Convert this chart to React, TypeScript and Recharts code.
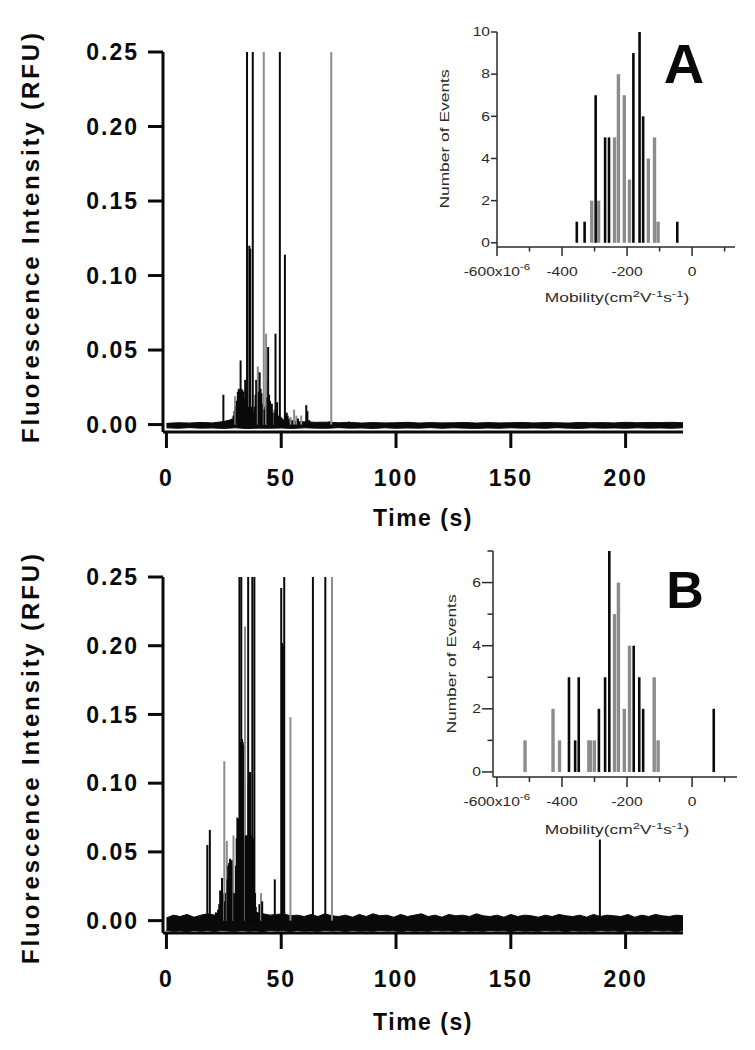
import { ComposedChart, BarChart, Area, Bar, XAxis, YAxis } from 'recharts'

const BLACK = '#0a0a0a'
const GREY = '#8c8c8c'
const INK = '#2a2a2a'
const FONT = '"Liberation Sans", Arial, Helvetica, sans-serif'

// main traces
const timeTicks = [0, 50, 100, 150, 200]
const rfuTicks = [0, 0.05, 0.1, 0.15, 0.2, 0.25]

// baseline band of trace A, one sample every 5 s from t = 0
const baseStepA = 5
const baseLowA = [
  -0.0022, -0.0025, -0.0021, -0.0024, -0.0023, -0.0026, -0.0022, -0.0027, -0.0024, -0.0025,
  -0.0023, -0.0026, -0.0022, -0.0024, -0.0025, -0.0021, -0.0024, -0.0023, -0.0026, -0.0022,
  -0.0025, -0.0023, -0.0024, -0.0021, -0.0025, -0.0022, -0.0024, -0.0026, -0.0023, -0.0025,
  -0.0022, -0.0024, -0.0023, -0.0025, -0.0021, -0.0024, -0.0026, -0.0022, -0.0024, -0.0023,
  -0.0025, -0.0022, -0.0024, -0.0023, -0.0025, -0.0022,
]
const baseHighA = [
  0.0008, 0.0012, 0.001, 0.0014, 0.0011, 0.002, 0.004, 0.004, 0.004, 0.003,
  0.002, 0.002, 0.0018, 0.0015, 0.0016, 0.0012, 0.0014, 0.001, 0.0013, 0.0011,
  0.0012, 0.0015, 0.001, 0.0013, 0.0011, 0.0012, 0.0014, 0.001, 0.0013, 0.0011,
  0.0012, 0.0014, 0.0011, 0.0013, 0.0012, 0.001, 0.0014, 0.0012, 0.0013, 0.0011,
  0.0015, 0.0012, 0.0014, 0.0013, 0.0015, 0.0012,
]

// single events of trace A: [time s, intensity RFU]
const spikesBlackA: [number, number][] = [
  [24.8, 0.02], [28.0, 0.003], [28.6, 0.004], [29.2, 0.006], [29.6, 0.009], [30.2, 0.012],
  [30.7, 0.016], [31.1, 0.022], [31.5, 0.024], [31.9, 0.023], [32.3, 0.043], [32.7, 0.024],
  [33.1, 0.023], [33.5, 0.022], [33.9, 0.018], [34.3, 0.03], [34.7, 0.014], [35.1, 0.25],
  [35.5, 0.012], [35.8, 0.01], [36.1, 0.12], [36.5, 0.118], [36.9, 0.012], [37.2, 0.008],
  [37.6, 0.25], [38.0, 0.008], [38.4, 0.012], [38.8, 0.02], [39.1, 0.03], [39.5, 0.027],
  [40.2, 0.022], [40.6, 0.035], [41.0, 0.024], [41.4, 0.021], [41.8, 0.014], [42.1, 0.01],
  [42.7, 0.01], [43.1, 0.012], [44.0, 0.018], [44.3, 0.052], [44.7, 0.02], [45.1, 0.016],
  [45.5, 0.012], [45.9, 0.014], [46.3, 0.008], [46.6, 0.006], [47.1, 0.008], [47.5, 0.061],
  [47.9, 0.01], [48.2, 0.015], [48.6, 0.006], [49.0, 0.005], [49.4, 0.25], [49.8, 0.005],
  [50.2, 0.004], [50.6, 0.004], [51.0, 0.003], [51.6, 0.114], [52.0, 0.006], [52.4, 0.008],
  [52.8, 0.006], [53.5, 0.004], [55.0, 0.003], [57.3, 0.004], [60.9, 0.013], [61.4, 0.009],
  [62.2, 0.003], [70.8, 0.002], [79.5, 0.002],
]
const spikesGreyA: [number, number][] = [
  [29.9, 0.019], [30.45, 0.012], [39.8, 0.039], [42.4, 0.25], [43.4, 0.061], [43.7, 0.03],
  [46.9, 0.01], [54.1, 0.005], [55.6, 0.01], [56.6, 0.006], [58.7, 0.006], [71.8, 0.25],
]

// baseline band of trace B, one sample every 3 s from t = 0
const baseStepB = 3
const baseLowB = [
  -0.0072, -0.0078, -0.0075, -0.008, -0.0073, -0.0077, -0.0074, -0.0079, -0.0072, -0.0076,
  -0.0078, -0.0073, -0.0077, -0.0075, -0.008, -0.0072, -0.0076, -0.0074, -0.0079, -0.0073,
  -0.0077, -0.0075, -0.0078, -0.0072, -0.0076, -0.0074, -0.0079, -0.0073, -0.0077, -0.0075,
  -0.0078, -0.0072, -0.0076, -0.0074, -0.008, -0.0073, -0.0077, -0.0075, -0.0078, -0.0072,
  -0.0076, -0.0074, -0.0079, -0.0073, -0.0077, -0.0075, -0.0078, -0.0072, -0.0076, -0.0074,
  -0.0079, -0.0073, -0.0077, -0.0075, -0.0078, -0.0072, -0.0076, -0.0074, -0.008, -0.0073,
  -0.0077, -0.0075, -0.0078, -0.0072, -0.0076, -0.0074, -0.0079, -0.0073, -0.0077, -0.0075,
  -0.0078, -0.0072, -0.0076, -0.0074, -0.0079, -0.0073,
]
const baseHighB = [
  0.002, 0.004, 0.003, 0.0045, 0.0025, 0.004, 0.005, 0.004, 0.008, 0.01,
  0.012, 0.015, 0.012, 0.006, 0.005, 0.004, 0.0045, 0.005, 0.0035, 0.004,
  0.003, 0.0045, 0.003, 0.005, 0.0035, 0.003, 0.004, 0.0025, 0.0045, 0.003,
  0.005, 0.0035, 0.004, 0.0025, 0.0045, 0.003, 0.004, 0.005, 0.003, 0.004,
  0.0025, 0.0045, 0.0035, 0.004, 0.003, 0.005, 0.0035, 0.003, 0.004, 0.0025,
  0.0045, 0.003, 0.004, 0.0035, 0.0025, 0.004, 0.003, 0.0045, 0.0035, 0.003,
  0.004, 0.0025, 0.0045, 0.003, 0.004, 0.0035, 0.003, 0.0045, 0.0025, 0.004,
  0.003, 0.0045, 0.0035, 0.003, 0.004, 0.0035,
]

const spikesBlackB: [number, number][] = [
  [17.8, 0.055], [18.9, 0.066], [21.5, 0.006], [22.0, 0.005], [22.5, 0.008], [23.0, 0.012],
  [23.4, 0.022], [23.8, 0.016], [24.2, 0.031], [24.6, 0.02], [25.0, 0.018], [25.5, 0.014],
  [25.9, 0.02], [26.6, 0.03], [26.9, 0.04], [27.3, 0.042], [27.7, 0.045], [28.1, 0.043],
  [28.5, 0.044], [28.9, 0.041], [29.5, 0.02], [29.9, 0.017], [30.3, 0.04], [30.6, 0.06],
  [30.9, 0.075], [31.2, 0.074], [31.5, 0.07], [31.8, 0.25], [32.1, 0.13], [32.4, 0.128],
  [32.6, 0.25], [32.9, 0.132], [33.2, 0.13], [33.5, 0.128], [33.8, 0.065], [34.5, 0.062],
  [34.8, 0.06], [35.1, 0.062], [35.4, 0.058], [35.6, 0.25], [35.9, 0.1], [36.2, 0.108],
  [36.5, 0.108], [36.8, 0.062], [37.1, 0.06], [37.4, 0.25], [37.7, 0.058], [38.0, 0.06],
  [38.3, 0.25], [38.6, 0.02], [38.9, 0.01], [39.3, 0.006], [40.5, 0.012], [41.7, 0.014],
  [47.2, 0.03], [50.0, 0.242], [50.5, 0.202], [50.9, 0.2], [51.3, 0.25], [51.8, 0.004],
  [63.8, 0.25], [69.2, 0.25], [188.8, 0.059],
]
const spikesGreyB: [number, number][] = [
  [25.2, 0.116], [26.3, 0.058], [29.2, 0.062], [34.2, 0.214], [41.2, 0.02], [54.0, 0.148],
  [72.1, 0.25],
]

// inset histograms: mobility (x10^-6 cm2/Vs), number of events, bar shade
const mobilityTicks = [-600, -500, -400, -300, -200, -100, 0, 100]
const mobilityA = [-354, -330, -308, -296, -287, -267, -255, -238, -226, -208, -192, -180, -161, -150, -134, -115, -104, -45]
const eventsA = [1, 1, 2, 7, 2, 5, 5, 5, 8, 7, 3, 9, 10, 6, 4, 5, 1, 1]
const shadeA = ['k', 'k', 'g', 'k', 'g', 'k', 'k', 'g', 'g', 'g', 'g', 'k', 'k', 'k', 'g', 'g', 'g', 'k']
const countTicksA = [0, 2, 4, 6, 8, 10]

const mobilityB = [-513, -427, -407, -378, -359, -348, -317, -312, -300, -286, -267, -254, -238, -226, -208, -192, -179, -162, -150, -116, -104, 67]
const eventsB = [1, 2, 1, 3, 1, 3, 1, 1, 1, 2, 3, 7, 5, 6, 2, 4, 4, 3, 2, 3, 1, 2]
const shadeB = ['g', 'g', 'g', 'k', 'k', 'k', 'g', 'g', 'g', 'k', 'k', 'k', 'g', 'g', 'g', 'g', 'k', 'k', 'k', 'g', 'g', 'k']
const countTicksB = [0, 1, 2, 3, 4, 5, 6, 7]

const mainTick = { fill: BLACK, fontSize: 23, fontWeight: 700, fontFamily: FONT, letterSpacing: 2 }

const Spike = (p: any) => {
  if (!p.height || p.height <= 0) return null
  return <rect x={p.x + p.width / 2 - 1} y={p.y} width={2} height={p.height} fill={p.payload.c} />
}

const InsetBar = (p: any) => {
  if (!p.height || p.height <= 0) return null
  const w = p.payload.c === 'g' ? 3.4 : 2.6
  return <rect x={p.x + p.width / 2 - w / 2} y={p.y} width={w} height={p.height} fill={p.payload.c === 'g' ? GREY : BLACK} />
}

interface TraceProps {
  top: number
  height: number
  plotTop: number
  plotBottom: number
  yMin: number
  step: number
  low: number[]
  high: number[]
  black: [number, number][]
  grey: [number, number][]
}

function Trace({ top, height, plotTop, plotBottom, yMin, step, low, high, black, grey }: TraceProps) {
  const bandData = low.map((lo, i) => ({ t: i * step, band: [lo, high[i]] }))
  const spikeData = [
    ...black.map(([t, v]) => ({ t, v, c: BLACK })),
    ...grey.map(([t, v]) => ({ t, v, c: GREY })),
  ].sort((a, b) => a.t - b.t)
  const xDomain = [-1.5, 225]
  const yDomain = [yMin, 0.25]
  const right = 72

  return (
    <div style={{ position: 'absolute', left: 0, top, width: 755, height }}>
      <div style={{ position: 'absolute', left: 0, top: 0 }}>
        <ComposedChart width={755} height={height} data={bandData}
          margin={{ top: plotTop, right, bottom: height - plotBottom - 60, left: 0 }}>
          <XAxis type="number" dataKey="t" domain={xDomain} ticks={timeTicks} allowDataOverflow height={60} interval={0}
            axisLine={{ stroke: BLACK, strokeWidth: 3 }} tickLine={{ stroke: BLACK, strokeWidth: 3 }}
            tickSize={16} tickMargin={22} tick={mainTick} />
          <YAxis type="number" domain={yDomain} ticks={rfuTicks} allowDataOverflow width={163} interval={0}
            tickFormatter={(v: number) => v.toFixed(2)}
            axisLine={{ stroke: BLACK, strokeWidth: 3 }} tickLine={{ stroke: BLACK, strokeWidth: 3 }}
            tickSize={15} tickMargin={9} tick={mainTick} />
          <Area type="linear" dataKey="band" stroke={BLACK} strokeWidth={1} fill={BLACK} fillOpacity={1}
            dot={false} activeDot={false} isAnimationActive={false} />
        </ComposedChart>
      </div>
      <div style={{ position: 'absolute', left: 0, top: 0 }}>
        <BarChart width={755} height={height} data={spikeData}
          margin={{ top: plotTop, right, bottom: height - plotBottom, left: 163 }}>
          <XAxis hide type="number" dataKey="t" domain={xDomain} allowDataOverflow />
          <YAxis hide type="number" domain={yDomain} allowDataOverflow />
          <Bar dataKey="v" shape={Spike} isAnimationActive={false} />
        </BarChart>
      </div>
    </div>
  )
}

function MobilityTick({ x, y, payload, len }: any) {
  const v = payload.value
  const major = v % 200 === 0
  return (
    <g>
      <line x1={x} x2={x} y1={y} y2={y + (major ? len : len / 2)} stroke={INK} strokeWidth={1.5} />
      {major && (
        <g transform={`translate(${x},${y + 29}) scale(1.3,1)`}>
          <text x={0} y={0} textAnchor="middle" fontSize={12} fontFamily={FONT} fill={INK}>
            {v === -600 ? (
              <>-600x10<tspan dy={-6} fontSize={9}>-6</tspan></>
            ) : v}
          </text>
        </g>
      )}
    </g>
  )
}

function CountTick({ x, y, payload, len }: any) {
  const v = payload.value
  const major = v % 2 === 0
  return (
    <g>
      <line x1={x - (major ? len : len / 2)} x2={x} y1={y} y2={y} stroke={INK} strokeWidth={1.5} />
      {major && (
        <g transform={`translate(${x - len - 1},${y}) scale(1.3,1)`}>
          <text x={0} y={0} textAnchor="end" dominantBaseline="central" fontSize={12} fontFamily={FONT} fill={INK}>{v}</text>
        </g>
      )}
    </g>
  )
}

interface InsetProps {
  left: number
  top: number
  height: number
  plotLeft: number
  plotRight: number
  plotTop: number
  plotBottom: number
  xDomain: number[]
  yDomain: number[]
  yTicks: number[]
  yLen: number
  xLen: number
  mob: number[]
  events: number[]
  shade: string[]
}

function Inset({ left, top, height, plotLeft, plotRight, plotTop, plotBottom, xDomain, yDomain, yTicks, yLen, xLen, mob, events, shade }: InsetProps) {
  const data = mob.map((m, i) => ({ m, n: events[i], c: shade[i] }))
  const width = 755 - left
  return (
    <div style={{ position: 'absolute', left, top }}>
      <BarChart width={width} height={height} data={data}
        margin={{ top: plotTop, right: width - plotRight, bottom: height - plotBottom - 50, left: 0 }}>
        <XAxis type="number" dataKey="m" domain={xDomain} ticks={mobilityTicks} allowDataOverflow height={50} interval={0}
          axisLine={{ stroke: INK, strokeWidth: 1.5 }} tickLine={false} tickSize={0} tickMargin={0}
          tick={(p: any) => <MobilityTick {...p} len={xLen} />} />
        <YAxis type="number" domain={yDomain} ticks={yTicks} allowDataOverflow width={plotLeft} interval={0}
          axisLine={{ stroke: INK, strokeWidth: 1.5 }} tickLine={false} tickSize={0} tickMargin={0}
          tick={(p: any) => <CountTick {...p} len={yLen} />} />
        <Bar dataKey="n" shape={InsetBar} isAnimationActive={false} />
      </BarChart>
    </div>
  )
}

function MobilityTitle({ x, y }: { x: number; y: number }) {
  return (
    <g transform={`translate(${x},${y}) scale(1.45,1)`}>
      <text x={0} y={0} textAnchor="middle" fontSize={12} fontFamily={FONT} fill={INK}>
        Mobility(cm<tspan dy={-5} fontSize={9}>2</tspan>
        <tspan dy={5}>V</tspan><tspan dy={-5} fontSize={9}>-1</tspan>
        <tspan dy={5}>s</tspan><tspan dy={-5} fontSize={9}>-1</tspan>
        <tspan dy={5}>)</tspan>
      </text>
    </g>
  )
}

function EventsTitle({ x, y }: { x: number; y: number }) {
  return (
    <g transform={`translate(${x},${y}) rotate(-90) scale(1.45,1)`}>
      <text x={0} y={0} textAnchor="middle" dominantBaseline="central" fontSize={12} fontFamily={FONT} fill={INK}>
        Number of Events
      </text>
    </g>
  )
}

export default function App() {
  const bold = { fontFamily: FONT, fontWeight: 700, fill: BLACK }
  return (
    <div style={{ position: 'absolute', left: 0, top: 0, width: 755, height: 1050, background: '#fff', overflow: 'hidden' }}>
      <Trace top={0} height={540} plotTop={52} plotBottom={432} yMin={-0.005}
        step={baseStepA} low={baseLowA} high={baseHighA} black={spikesBlackA} grey={spikesGreyA} />
      <Trace top={520} height={530} plotTop={57} plotBottom={413} yMin={-0.009}
        step={baseStepB} low={baseLowB} high={baseHighB} black={spikesBlackB} grey={spikesGreyB} />

      <Inset left={380} top={0} height={310} plotLeft={117} plotRight={355} plotTop={32} plotBottom={247}
        xDomain={[-600, 132]} yDomain={[-0.2, 10]} yTicks={countTicksA} yLen={6} xLen={9}
        mob={mobilityA} events={eventsA} shade={shadeA} />
      <Inset left={380} top={520} height={330} plotLeft={113} plotRight={357} plotTop={31} plotBottom={257}
        xDomain={[-612, 138]} yDomain={[-0.16, 7]} yTicks={countTicksB} yLen={11} xLen={10}
        mob={mobilityB} events={eventsB} shade={shadeB} />

      <svg width={755} height={1050} style={{ position: 'absolute', left: 0, top: 0, pointerEvents: 'none' }}>
        <text transform="translate(30,238) rotate(-90)" textAnchor="middle" dominantBaseline="central"
          fontSize={24} textLength={410} lengthAdjust="spacing" {...bold}>Fluorescence Intensity (RFU)</text>
        <text transform="translate(30,759) rotate(-90)" textAnchor="middle" dominantBaseline="central"
          fontSize={24} textLength={410} lengthAdjust="spacing" {...bold}>Fluorescence Intensity (RFU)</text>
        <text x={423} y={526} textAnchor="middle" fontSize={23} letterSpacing={1.5} {...bold}>Time (s)</text>
        <text x={423} y={1030} textAnchor="middle" fontSize={23} letterSpacing={1.5} {...bold}>Time (s)</text>

        <EventsTitle x={445} y={139} />
        <EventsTitle x={452} y={664} />
        <MobilityTitle x={617} y={302} />
        <MobilityTitle x={617} y={834} />

        <text x={684} y={83} textAnchor="middle" fontSize={56} {...bold}>A</text>
        <text x={685} y={608} textAnchor="middle" fontSize={52} {...bold}>B</text>
      </svg>
    </div>
  )
}
